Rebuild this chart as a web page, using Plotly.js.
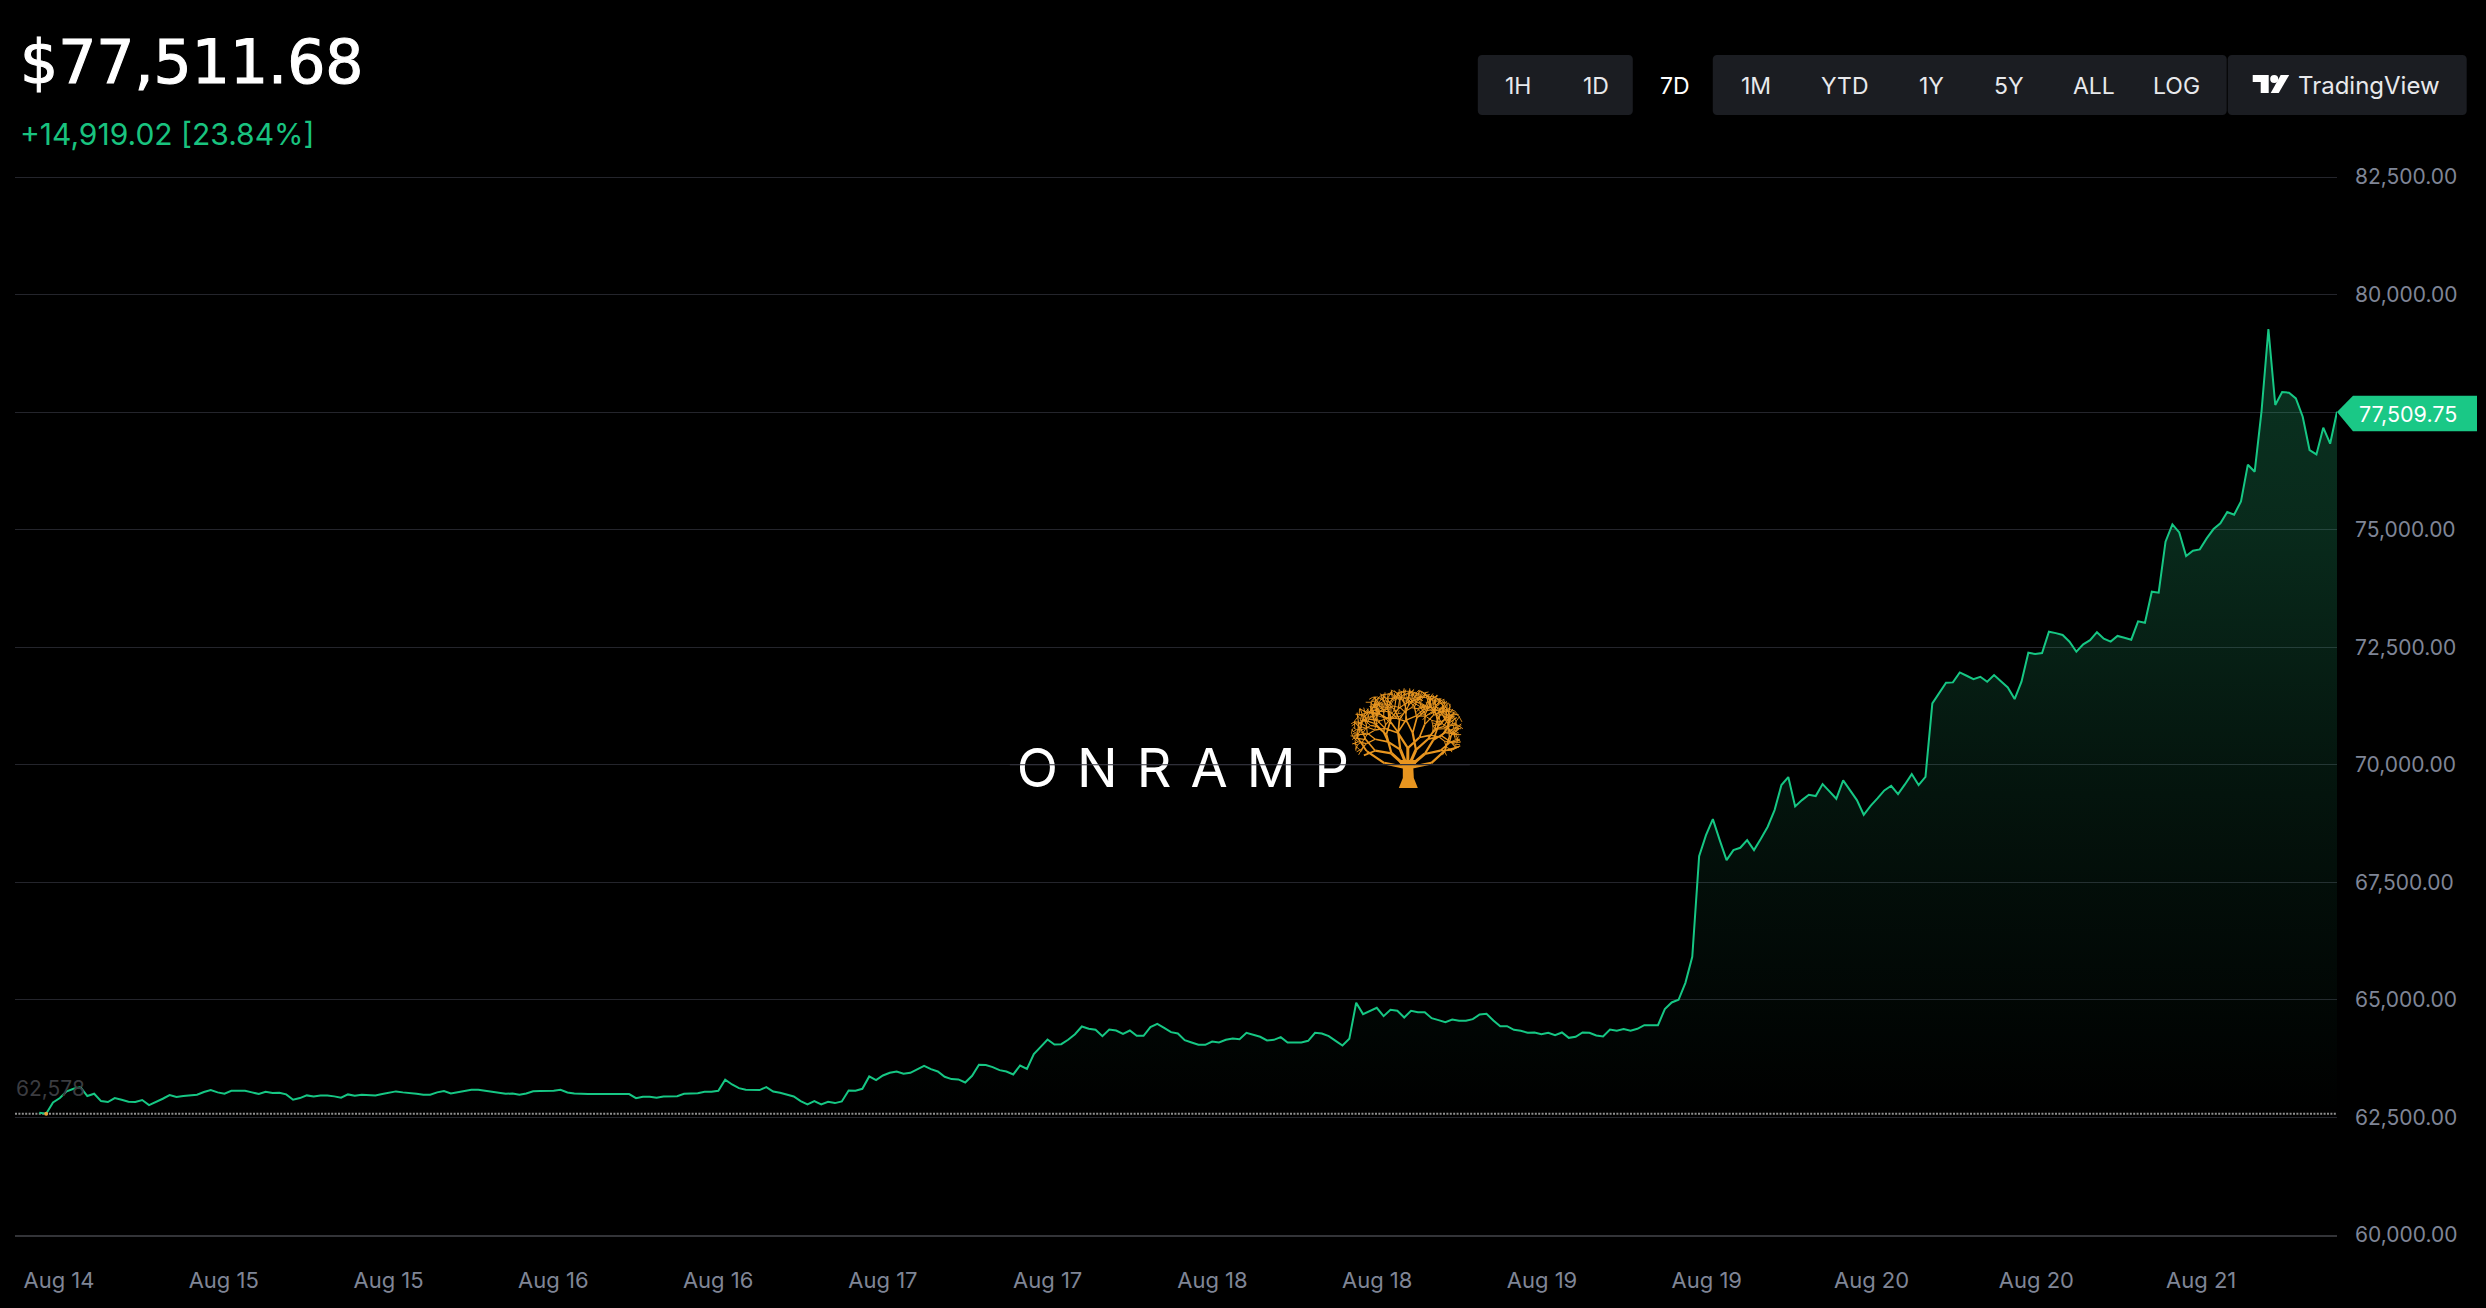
<!DOCTYPE html>
<html>
<head>
<meta charset="utf-8">
<script src="https://cdn.plot.ly/plotly-3.0.1.min.js"></script>
<style>html,body{margin:0;padding:0;background:#000;overflow:hidden}#chart{width:2486px;height:1308px}</style>
</head>
<body>
<div id="chart"></div>
<script>
// ---------- data ----------
const priceValues = [
62600,62578,62820,62912,63054,63110,63146,62955,63004,62848,62827,62912,62877,62834,62827,62870,62763,62827,62898,62976,
62933,62955,62976,62983,63040,63082,63033,63004,63068,63068,63068,63033,62997,63047,63018,63025,62990,62877,62912,62969,
62948,62969,62969,62948,62919,62990,62962,62983,62969,62969,62997,63025,63054,63033,63011,63004,62983,62983,63033,63061,
63011,63040,63075,63089,63089,63068,63040,63018,63004,63011,62983,63011,
63055,63060,63060,63067,63088,63031,63010,62996,62996,62996,62996,62996,63010,63010,62996,62911,62939,62939,62918,62946,
62946,62953,63003,63003,63017,63046,63046,63067,63301,63201,63123,63088,63081,63081,63145,63052,63024,62989,62946,62847,
62776,62847,62776,62833,62805,62840,63074,63067,63109,63372,63294,63393,63450,63478,63428,63450,63520,63598,63527,63478,
63364,63315,63308,63244,63386,63620,63613,63570,63506,63478,63414,63605,63534,
63846,64002,64158,64052,64059,64151,64271,64434,64385,64364,64229,64371,64349,64279,64349,64236,64236,64420,64491,64406,
64314,64286,64144,64094,64045,64045,64115,64094,64151,64179,64165,64300,64257,64215,64137,64151,64208,64094,64094,64094,
64130,64300,64286,64229,64130,64030,64172,64938,64697,64768,64832,64654,64789,64768,64626,64768,64739,64739,64612,64569,
64527,64583,64555,64555,64590,64690,64704,64562,64441,64441,64364,64342,64300,
64307,64271,64300,64250,64307,64193,64215,64307,64300,64243,64222,64371,64342,64378,64342,64385,64463,64463,64463,64803,
64945,65002,65363,
65916,68058,68504,68845,68398,67973,68185,68235,68398,68185,68426,68682,69036,69568,69738,69114,69249,69362,69334,69589,
69433,69277,69667,69462,69249,68937,69128,69284,69454,69554,69376,69582,69802,69568,69745,71305,71539,71744,71752,71964,
71893,71822,71872,71766,71908,71766,71645,71397,71766,72383,72354,72375,
72830,72800,72760,72617,72404,72560,72650,72820,72680,72620,72740,72700,72660,73050,73020,73680,73659,
74744,75112,74942,74439,74552,74581,74815,75013,75134,75375,75318,75602,76382,76233,77523,79267,77651,77927,77913,77792,
77402,76693,76601,77169,76828,77510
];
const tickLabels = ["Aug 14","Aug 15","Aug 15","Aug 16","Aug 16","Aug 17","Aug 17","Aug 18","Aug 18","Aug 19","Aug 19","Aug 20","Aug 20","Aug 21"];
const yTicks = [60000,62500,65000,67500,70000,72500,75000,77500,80000,82500];
const yTickLabels = ["60,000.00","62,500.00","65,000.00","67,500.00","70,000.00","72,500.00","75,000.00","","80,000.00","82,500.00"];
const lowValue = 62578;
const lastPriceLabel = "77,509.75";
const headlinePrice = "$77,511.68";
const headlineChange = "+14,919.02 [23.84%]";
const rangeButtons = [["1H",1518.5],["1D",1596.5],["7D",1675.5],["1M",1756],["YTD",1845],["1Y",1931.5],["5Y",2009],["ALL",2094.5],["LOG",2177]];

// ---------- geometry helpers ----------
const W = 2486, H = 1308, L = 15, R = 2337.3, T = 170, B = 1234.8;
const GREEN = "#16c784", GRID = "#24252c", AXIS = "#7f8596", BTN = "#1b1d22";
const yTop = 82500 + (177 - T) * 2500 / 117.54;
const px = x => (x - L) / (R - L);
const py = y => 1 - (y - T) / (B - T);
const pathFrom = pts => "M" + pts.map(p => px(p[0]) + "," + py(p[1])).join(" L") + " Z";
function roundRect(x0, y0, x1, y1, r) {
  const pts = [];
  [[x1 - r, y0 + r, -90], [x1 - r, y1 - r, 0], [x0 + r, y1 - r, 90], [x0 + r, y0 + r, 180]].forEach(c => {
    for (let a = 0; a <= 90; a += 30) {
      const t = (c[2] + a) * Math.PI / 180;
      pts.push([c[0] + r * Math.cos(t), c[1] + r * Math.sin(t)]);
    }
  });
  return pathFrom(pts);
}

const N = priceValues.length;
const x0 = 39.3, step = (R - x0) / (N - 1);
const idx = priceValues.map((_, i) => i);
const xMin = (L - x0) / step;
const firstTick = (59 - x0) / step, tickEvery = 164.8 / step;

// ---------- decorative tree of the logo ----------
const treeLevels = [[], [], [], [], [], [], [], []];
const jitter = k => { const s = Math.sin(k * 12.9898) * 43758.5453; return s - Math.floor(s); };
function inCanopy(x, y) { return Math.pow((x - 1407) / 57, 2) + Math.pow((y - 733) / 45, 2) <= 1; }
let treeId = 1;
function grow(x, y, ang, len, d) {
  let ex = x + len * Math.cos(ang), ey = y + len * Math.sin(ang);
  if (!inCanopy(ex, ey)) return;
  treeLevels[d].push("M" + px(x) + "," + py(y) + " L" + px(ex) + "," + py(ey));
  if (d >= 7) return;
  for (let k = 0; k < 2; k++) {
    const id = treeId++;
    const spread = (k - 0.5) * (0.75 + 0.55 * jitter(id)) + (jitter(id + 500) - 0.5) * 0.5;
    grow(ex, ey, ang + spread, len * (0.72 + 0.2 * jitter(id + 900)), d + 1);
  }
}
[-168, -138, -112, -90, -66, -40, -12].forEach((deg, i) => {
  grow(1408, 768, deg * Math.PI / 180, [24, 22, 20, 20, 20, 22, 24][i], 0);
});
const treeWidths = [3, 2.2, 1.7, 1.3, 1.1, 1, 0.9, 0.9];
const treeColor = "#e8951f";

// ---------- shapes ----------
const shapes = [
  {type:"path", xref:"paper", yref:"paper", layer:"above", line:{width:0}, fillcolor:BTN, path:roundRect(1478,55,1633,115,4)},
  {type:"path", xref:"paper", yref:"paper", layer:"above", line:{width:0}, fillcolor:BTN, path:roundRect(1713,55,2227,115,4)},
  {type:"path", xref:"paper", yref:"paper", layer:"above", line:{width:0}, fillcolor:BTN, path:roundRect(2228,55,2467,115,4)},
  // TradingView mark
  {type:"path", xref:"paper", yref:"paper", layer:"above", line:{width:0}, fillcolor:"#ffffff",
   path:pathFrom([[2253,75],[2269,75],[2269,93],[2261,93],[2261,82],[2253,82]])},
  {type:"path", xref:"paper", yref:"paper", layer:"above", line:{width:0}, fillcolor:"#ffffff",
   path:pathFrom([[2281,75],[2289.5,75],[2279,93],[2271,93]])},
  {type:"circle", xref:"paper", yref:"paper", layer:"above", line:{width:0}, fillcolor:"#ffffff",
   x0:px(2270.5), x1:px(2278.5), y0:py(83), y1:py(75)},
  // last price tag
  {type:"path", xref:"paper", yref:"paper", layer:"above", line:{width:0}, fillcolor:"#1ac886",
   path:pathFrom([[2337.3,412],[2353.3,395.7],[2477.3,395.7],[2477.3,431.3],[2353.3,431.3]])},
  // logo trunk
  {type:"path", xref:"paper", yref:"paper", layer:"below", line:{width:0}, fillcolor:treeColor,
   path:pathFrom([[1399,788],[1418,788],[1414,778],[1413.5,768],[1418,760],[1398,760],[1403,768],[1403,778]])}
];
treeLevels.forEach((segs, d) => {
  if (segs.length) shapes.push({type:"path", xref:"paper", yref:"paper", layer:"below",
    line:{color:treeColor, width:treeWidths[d]}, path:segs.join(" ")});
});

// ---------- annotations ----------
const note = (text, x, y, size, color, anchor, family, extra) => Object.assign({
  text, xref:"paper", yref:"paper", x:px(x), y:py(y), xanchor:anchor || "center", yanchor:"middle",
  showarrow:false, borderpad:0, font:{family:family || "Inter", size, color}
}, extra || {});
const annotations = [
  note('<span style="stroke:#ffffff;stroke-width:1.1px">' + headlinePrice + '</span>', 19, 62, 60, "#ffffff", "left", "DejaVu Sans"),
  note(headlineChange, 19, 134.5, 30, "#19c37f", "left", "Inter"),
  note(lowValue.toLocaleString("en-US"), 15, 1088, 21, "#3b3c40", "left"),
  note(lastPriceLabel, 2408, 413.5, 21.5, "#ffffff"),
  note("TradingView", 2369.5, 85.7, 24, "#e8e9ec")
];
rangeButtons.forEach(b => annotations.push(note(b[0], b[1], 85.7, 23, b[0] === "7D" ? "#ffffff" : "#e8e9ec")));

// ---------- traces ----------
const logoX = (1192.5 - x0) / step;
const traces = [
  {x:[logoX], y:[69820], mode:"text", text:['<span style="letter-spacing:19px">ONRAMP</span>'],
   textposition:"middle center", textfont:{family:"Inter", size:54, color:"#ffffff"}, hoverinfo:"skip", showlegend:false},
  {x:[(1010 - x0) / step, (1470 - x0) / step], y:[70000,70000], mode:"lines", line:{color:"#34353f", width:1}, hoverinfo:"skip", showlegend:false},
  {x:[xMin, N - 1], y:[lowValue, lowValue], mode:"lines", line:{color:"#8f8f8f", width:2, dash:"2px,1.4px"}, hoverinfo:"skip", showlegend:false},
  {x:idx, y:priceValues, mode:"lines", line:{color:GREEN, width:2}, fill:"tonexty", showlegend:false,
   fillgradient:{type:"vertical", start:lowValue, stop:79267, colorscale:[
     [0,"rgba(40,200,130,0)"],[0.145,"rgba(40,200,130,0.035)"],[0.295,"rgba(40,200,130,0.07)"],
     [0.445,"rgba(40,200,130,0.11)"],[0.595,"rgba(40,200,130,0.16)"],[0.745,"rgba(40,200,130,0.21)"],[1,"rgba(40,200,130,0.25)"]]}},
  {x:[1], y:[lowValue], mode:"markers", marker:{color:"#e8a33d", size:4}, hoverinfo:"skip", showlegend:false}
];

const layout = {
  width:W, height:H, autosize:false,
  margin:{l:L, r:W - R, t:T, b:H - B, pad:0},
  paper_bgcolor:"#000000", plot_bgcolor:"rgba(0,0,0,0)",
  showlegend:false, hovermode:false,
  font:{family:"Inter", color:AXIS},
  xaxis:{type:"linear", range:[xMin, N - 1], showgrid:false, zeroline:false,
    showline:true, linecolor:"#333438", linewidth:2,
    tickmode:"array", tickvals:tickLabels.map((_, i) => firstTick + i * tickEvery), ticktext:tickLabels,
    ticks:"", ticklabelstandoff:25, tickfont:{family:"Inter", size:22, color:AXIS}},
  yaxis:{type:"linear", range:[60000, yTop], side:"right", showgrid:true, gridcolor:GRID, gridwidth:1,
    zeroline:false, showline:false, tickmode:"array", tickvals:yTicks, ticktext:yTickLabels,
    ticks:"", ticklabelstandoff:17, ticklabelshift:-1.5, tickfont:{family:"Inter", size:21, color:AXIS}},
  shapes, annotations
};
Plotly.newPlot("chart", traces, layout, {displayModeBar:false, staticPlot:true});
</script>
</body>
</html>
